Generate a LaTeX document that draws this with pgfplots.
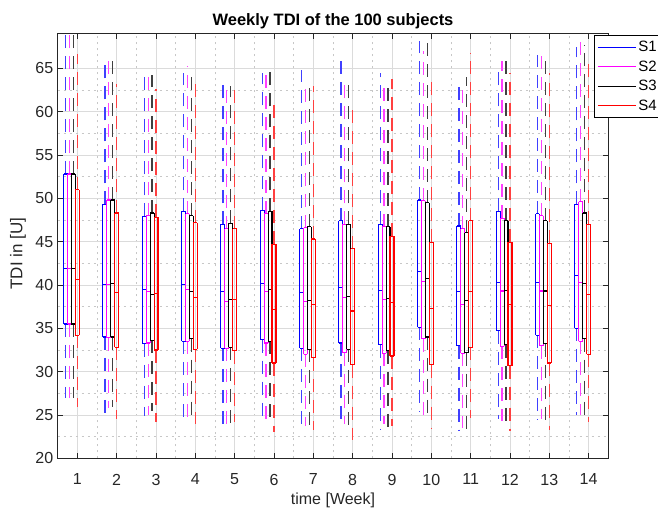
\documentclass[border=0pt]{standalone}
\usepackage{pgfplots}
\pgfplotsset{compat=1.18}
\usepackage{pgfplotstable}
\usepackage{fontspec}
\setmainfont{Liberation Sans}

% columns: lower whisker, lower quartile, median, upper quartile, upper whisker (one row per week)
\pgfplotstableread{
lw lq med uq uw
26.9 35.5 41.9 52.8 71.0
25.2 34.0 40.0 49.3 65.4
24.9 33.2 39.5 47.9 64.4
24.7 33.5 40.0 48.5 64.4
23.3 32.7 39.2 47.0 63.3
24.2 33.7 40.2 48.6 64.5
23.2 32.7 39.1 46.5 64.8
23.7 33.3 39.7 47.4 66.0
23.4 33.1 39.4 47.0 64.5
25.4 35.1 41.5 49.8 68.2
23.2 33.0 39.2 46.8 63.7
24.5 34.7 40.3 48.5 64.7
24.5 34.2 40.3 48.2 66.5
25.0 35.0 41.1 49.3 67.5
}\sone
\pgfplotstableread{
lw lq med uq uw
26.9 35.5 41.9 52.8 71.0
25.8 33.9 40.0 49.8 66.0
25.0 33.3 39.2 48.0 64.9
24.4 33.5 39.5 48.2 65.3
23.7 32.7 38.1 46.5 62.9
24.3 33.3 39.2 48.2 64.5
23.7 32.0 38.1 46.6 62.6
23.9 32.2 38.5 47.0 63.1
23.9 32.1 38.3 46.7 63.1
24.8 33.8 40.4 49.7 67.0
23.5 32.1 37.7 46.5 63.3
24.3 32.9 39.3 47.7 65.8
24.5 33.0 39.3 48.0 66.5
25.0 33.5 40.3 49.6 68.3
}\stwo
\pgfplotstableread{
lw lq med uq uw
26.9 35.5 41.9 52.8 71.0
25.9 34.0 40.2 49.8 66.2
25.5 33.6 38.9 48.3 64.2
24.2 33.8 39.2 48.0 64.9
23.4 32.8 38.3 47.1 62.9
24.4 33.5 39.5 48.5 64.8
23.4 32.6 38.2 46.7 62.8
23.5 32.6 38.7 47.0 63.1
23.3 32.4 38.4 46.7 63.1
24.8 34.0 40.7 49.5 67.9
23.3 32.2 38.2 46.0 64.0
24.3 33.1 39.4 47.4 66.2
24.4 33.2 39.3 47.4 66.0
24.5 33.8 40.2 48.3 67.7
}\sthree
\pgfplotstableread{
lw lq med uq uw
25.9 34.2 40.6 51.0 66.7
24.5 32.8 39.1 48.3 63.2
24.2 32.5 39.0 47.8 62.6
24.0 32.6 38.5 47.2 64.0
24.2 32.4 38.3 46.5 62.9
23.0 31.0 37.2 44.7 61.5
23.3 31.6 37.7 45.3 62.9
22.1 30.8 37.0 44.2 61.1
23.7 31.8 38.0 45.6 63.8
23.4 30.8 37.3 44.9 63.5
24.6 32.8 39.2 47.4 66.8
23.2 30.7 37.7 44.9 64.4
23.3 31.0 37.6 44.8 64.4
24.2 32.0 38.9 47.0 65.6
}\sfour

\definecolor{mblue}{RGB}{0,0,255}
\definecolor{mmag}{RGB}{255,0,255}
\definecolor{mred}{RGB}{255,0,0}
\definecolor{axgray}{RGB}{38,38,38}

\pgfplotsset{
  bxbase/.style={forget plot, mark=none, draw opacity=0, line width=0.1pt},
}

% \series{table}{colour}{left edge}{centre}{right edge}: box plots drawn with error bars
\newcommand\series[5]{%
  % whiskers (dashed)
  \addplot[bxbase, error bars/.cd, y dir=plus, y explicit, error mark=none,
    error bar style={draw=#2!75, draw opacity=1, line width=1.3pt, dash pattern=on 13pt off 8pt}]
    table[x expr=\coordindex+#4, y=uq, y error expr=\thisrow{uw}-\thisrow{uq}] {#1};
  \addplot[bxbase, error bars/.cd, y dir=minus, y explicit, error mark=none,
    error bar style={draw=#2!75, draw opacity=1, line width=1.3pt, dash pattern=on 13pt off 8pt}]
    table[x expr=\coordindex+#4, y=lq, y error expr=\thisrow{lq}-\thisrow{lw}] {#1};
  % box sides
  \addplot[bxbase, error bars/.cd, y dir=plus, y explicit, error mark=none,
    error bar style={draw=#2, draw opacity=1, solid, line width=1.1pt}]
    table[x expr=\coordindex+#3, y=lq, y error expr=\thisrow{uq}-\thisrow{lq}] {#1};
  \addplot[bxbase, error bars/.cd, y dir=plus, y explicit, error mark=none,
    error bar style={draw=#2, draw opacity=1, solid, line width=1.1pt}]
    table[x expr=\coordindex+#5, y=lq, y error expr=\thisrow{uq}-\thisrow{lq}] {#1};
  % box bottom, top, median
  \addplot[bxbase, error bars/.cd, x dir=both, x fixed=0.05, error mark=none,
    error bar style={draw=#2, draw opacity=1, solid, line width=1.1pt}]
    table[x expr=\coordindex+#4, y=lq] {#1};
  \addplot[bxbase, error bars/.cd, x dir=both, x fixed=0.05, error mark=none,
    error bar style={draw=#2, draw opacity=1, solid, line width=1.1pt}]
    table[x expr=\coordindex+#4, y=uq] {#1};
  \addplot[bxbase, error bars/.cd, x dir=both, x fixed=0.05, error mark=none,
    error bar style={draw=#2, draw opacity=1, solid, line width=1.1pt}]
    table[x expr=\coordindex+#4, y=med] {#1};
}

\begin{document}
\begin{tikzpicture}
\path[use as bounding box] (0pt,0pt) rectangle (658pt,510pt);
\begin{axis}[
  at={(57.7pt,51.7pt)}, anchor=south west,
  width=550.6pt, height=424.7pt, scale only axis,
  xmin=0.5, xmax=14.5, ymin=20, ymax=69,
  xtick={1,...,14}, ytick={20,25,...,65},
  minor x tick num=1, minor y tick num=1,
  minor tick length=0pt, major tick length=5pt,
  tick align=inside,
  grid=both,
  major grid style={black!14, line width=0.6pt},
  minor grid style={black!22, line width=0.6pt, dash pattern=on 2pt off 4pt},
  axis line style={axgray, line width=0.8pt},
  every tick/.style={axgray, line width=0.8pt},
  /pgf/number format/assume math mode=true,
  ticklabel style={font=\fontsize{16}{16}\selectfont, text=axgray},
  xticklabel style={yshift=-12pt},
  yticklabel style={xshift=-1pt},
  title={Weekly TDI of the 100 subjects},
  title style={font=\bfseries\fontsize{16.5}{16.5}\selectfont, at={(axis description cs:0.5,1)}, anchor=south, yshift=-5pt},
  xlabel={time [Week]},
  ylabel={TDI in [U]},
  xlabel style={font=\fontsize{16}{16}\selectfont, text=axgray, at={(axis description cs:0.5,-0.1)}, anchor=center},
  ylabel style={font=\fontsize{17}{17}\selectfont, text=axgray, at={(axis description cs:-0.072,0.482)}, anchor=center, rotate=0},
  legend style={at={(axis description cs:0.974,0.997)}, anchor=north west,
    font=\fontsize{15}{15}\selectfont, draw=black, line width=0.6pt,
    inner xsep=3pt, inner ysep=4pt, row sep=3.5pt, cells={anchor=west}},
  clip=true,
]
\addlegendimage{legend image code/.code={\draw[draw=mblue, line width=1.1pt] (0pt,0pt) -- (38pt,0pt);}}
\addlegendentry{S1}
\addlegendimage{legend image code/.code={\draw[draw=mmag, line width=1.1pt] (0pt,0pt) -- (38pt,0pt);}}
\addlegendentry{S2}
\addlegendimage{legend image code/.code={\draw[draw=black, line width=1.1pt] (0pt,0pt) -- (38pt,0pt);}}
\addlegendentry{S3}
\addlegendimage{legend image code/.code={\draw[draw=mred, line width=1.1pt] (0pt,0pt) -- (38pt,0pt);}}
\addlegendentry{S4}
\series{\sone}{mblue}{0.65}{0.7}{0.75}
\series{\stwo}{mmag}{0.75}{0.8}{0.85}
\series{\sthree}{black}{0.85}{0.9}{0.95}
\series{\sfour}{mred}{0.95}{1.0}{1.05}
\end{axis}
\end{tikzpicture}
\end{document}
